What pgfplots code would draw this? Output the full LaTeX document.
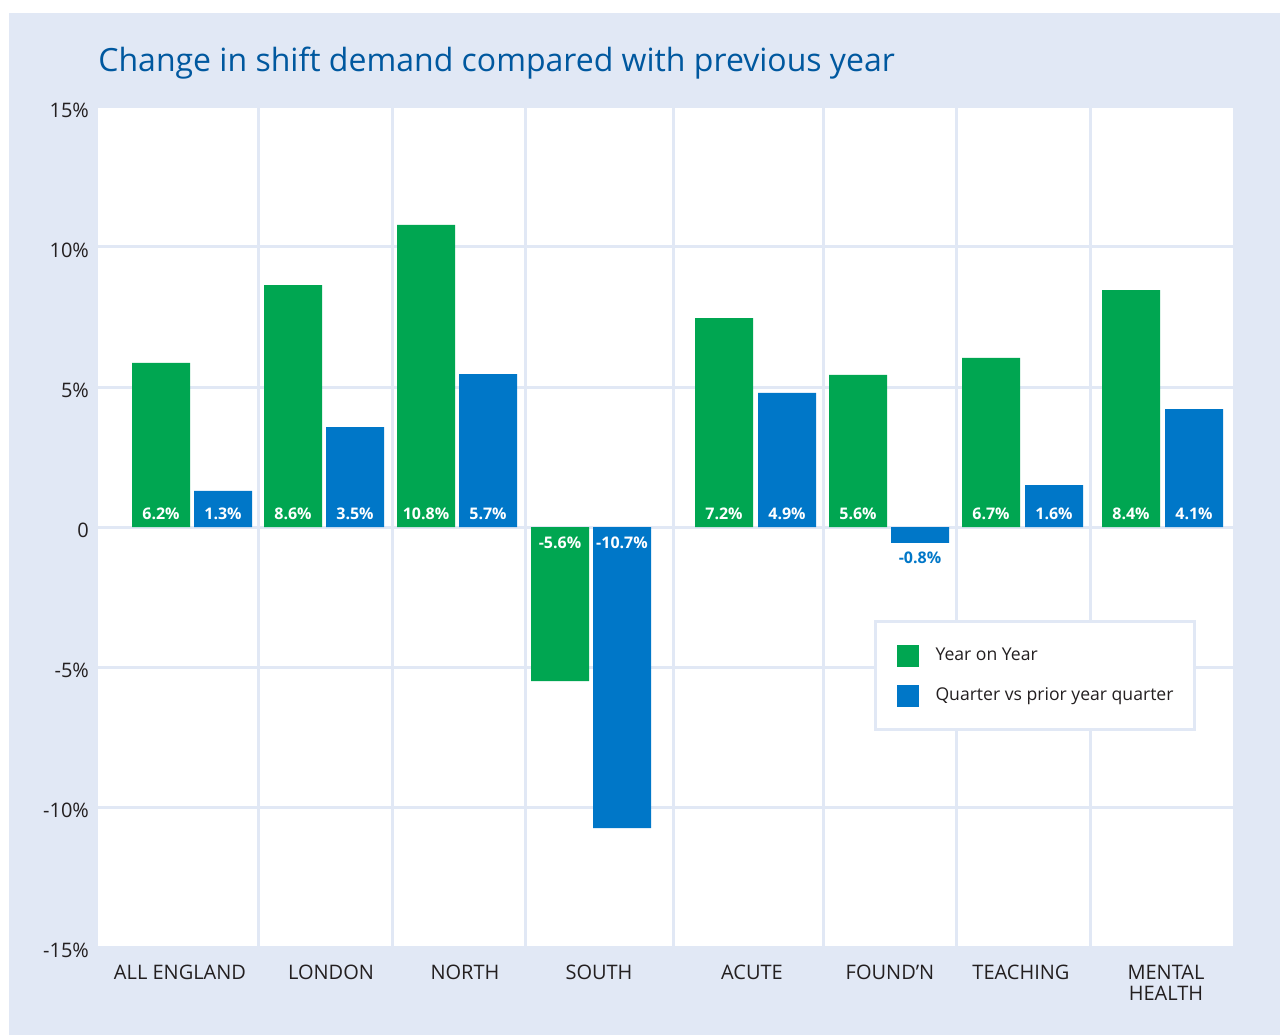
\documentclass[border=0pt]{standalone}
\usepackage{pgfplots}
\pgfplotsset{compat=1.18}
\usepackage{pgfplotstable}
\usepackage{fontspec}
\setmainfont{Open Sans}
\definecolor{panel}{HTML}{E1E8F5}
\definecolor{yoy}{HTML}{00A651}
\definecolor{qvq}{HTML}{0077C8}
\definecolor{ttl}{HTML}{00589F}
\definecolor{txt}{HTML}{231F20}

% bar centres in pixel units of the original, heights in %
\pgfplotstableread{
x y
161 5.86
293 8.64
426 10.79
560 -5.50
724 7.46
858 5.43
991 6.04
1131 8.46
}\yoydata
\pgfplotstableread{
x y
223 1.29
355 3.57
488 5.46
622 -10.75
787 4.79
920 -0.57
1054 1.50
1194 4.21
}\qvqdata
\pgfplotstableread{
x y lab
161 0.46 6.2
223 0.46 1.3
293 0.46 8.6
355 0.46 3.5
426 0.46 10.8
488 0.46 5.7
560 -0.55 -5.6
622 -0.55 -10.7
724 0.46 7.2
787 0.46 4.9
858 0.46 5.6
991 0.46 6.7
1054 0.46 1.6
1131 0.46 8.4
1194 0.46 4.1
}\whitelabs
\pgfplotstableread{
x y lab
920 -1.09 -0.8
}\bluelabs

\begin{document}
\begin{tikzpicture}
\path (0,0) rectangle (640pt,517.5pt);
\fill[panel] (4.5pt,0) rectangle (640pt,511pt);
\begin{axis}[
  at={(49pt,44pt)}, anchor=south west,
  scale only axis, width=567.5pt, height=420pt,
  xmin=98, xmax=1233, ymin=-15, ymax=15,
  axis background/.style={fill=white},
  axis line style={draw=none}, tick style={draw=none},
  major tick length=0pt,
  ytick={-15,-10,-5,0,5,10,15},
  yticklabels={-15\%,-10\%,-5\%,0,5\%,10\%,15\%},
  ymajorgrids, grid style={panel, line width=1.5pt},
  xtick={180,331,465,599,752,890,1021,1166},
  xticklabels={ALL ENGLAND,LONDON,NORTH,SOUTH,ACUTE,FOUND’N,TEACHING,MENTAL\\HEALTH},
  extra x ticks={258,392,525,673,823,956,1090},
  extra x tick labels={},
  extra x tick style={grid=major, major grid style={panel, line width=1.5pt}},
  tick label style={font=\fontsize{10}{10.5}\selectfont, text=txt},
  xticklabel style={align=center, anchor=north, yshift=-5.5pt},
  yticklabel style={xshift=-1pt, yshift=-1.5pt},
  title={Change in shift demand compared with previous year},
  title style={at={(0,1)}, anchor=base west, yshift=11.5pt, inner sep=0pt,
    font=\fontsize{16}{19}\selectfont, text=ttl},
  legend style={at={(axis cs:874,-3.33)}, anchor=north west,
    draw=panel, line width=1.5pt, fill=white,
    font=\fontsize{8.8}{11}\selectfont, text=txt,
    inner xsep=10.5pt, inner ysep=11.5pt,
    nodes={inner sep=0pt, minimum height=11pt},
    column sep=8.5pt, row sep=9pt},
  legend cell align=left,
  legend image code/.code={\fill[#1] (0pt,-5.5pt) rectangle (11pt,5.5pt);},
]
\addplot[ybar, bar width=58, bar shift=0pt, fill=yoy, draw=none] table[x=x,y=y] {\yoydata};
\addplot[ybar, bar width=58, bar shift=0pt, fill=qvq, draw=none] table[x=x,y=y] {\qvqdata};
\addplot[forget plot, draw=none, mark=none, point meta=explicit symbolic,
  nodes near coords={\pgfplotspointmeta\%},
  nodes near coords style={anchor=center, text=white, font=\fontsize{8}{9}\selectfont\bfseries}]
  table[x=x,y=y,meta=lab] {\whitelabs};
\addplot[forget plot, draw=none, mark=none, point meta=explicit symbolic,
  nodes near coords={\pgfplotspointmeta\%},
  nodes near coords style={anchor=center, text=qvq, font=\fontsize{8}{9}\selectfont\bfseries}]
  table[x=x,y=y,meta=lab] {\bluelabs};
\legend{Year on Year, Quarter vs prior year quarter}
\end{axis}
\end{tikzpicture}
\end{document}
